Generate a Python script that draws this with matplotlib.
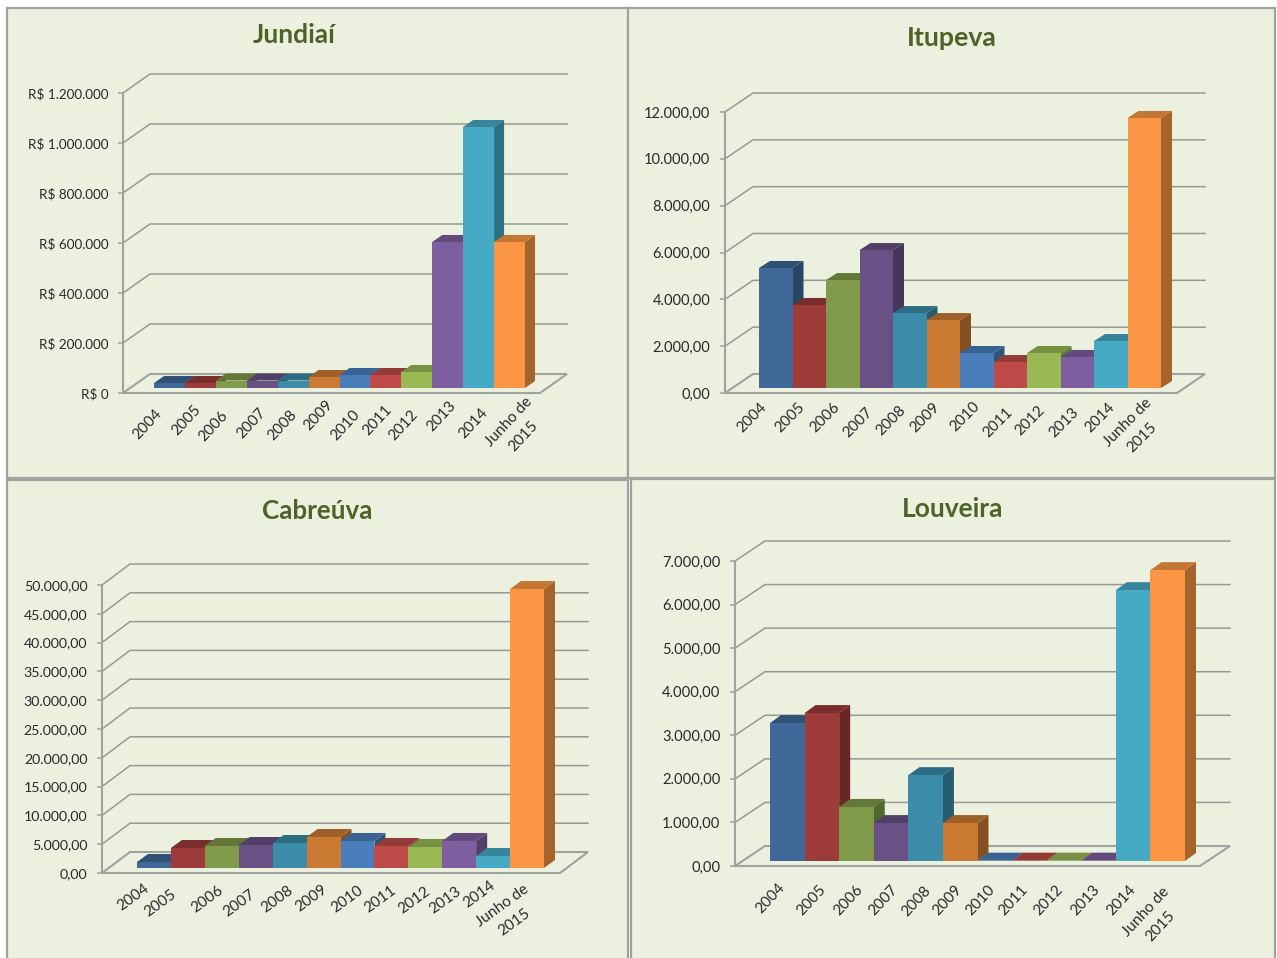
import matplotlib
matplotlib.use("Agg")
import matplotlib.pyplot as plt
from matplotlib.patches import Polygon, Rectangle
from matplotlib.transforms import Affine2D
from matplotlib.colors import to_rgb

W, H = 1277, 958

anos = ["2004", "2005", "2006", "2007", "2008", "2009", "2010", "2011", "2012", "2013", "2014", "Junho de\n2015"]
cores = ["#3F6797", "#9C3B3A", "#7F9A48", "#695185", "#3A8CA8", "#CB7A33",
         "#4A7EBB", "#BE4B48", "#98B954", "#7D5FA0", "#46AAC5", "#FB9744"]

jundiai = [20000, 20000, 30000, 30000, 30000, 44000, 52000, 52000, 64000, 584000, 1044000, 584000]
itupeva = [5125, 3545, 4610, 5890, 3200, 2900, 1495, 1110, 1495, 1325, 2005, 11530]
cabreuva = [1040, 3470, 3820, 3990, 4340, 5380, 4690, 3820, 3650, 4690, 2080, 48440]
louveira = [3165, 3395, 1240, 870, 1970, 870, 8, 8, 8, 8, 6215, 6675]

ticks_jundiai = [0, 200000, 400000, 600000, 800000, 1000000, 1200000]
labels_jundiai = ["R$ 0", "R$ 200.000", "R$ 400.000", "R$ 600.000", "R$ 800.000", "R$ 1.000.000", "R$ 1.200.000"]
ticks_itupeva = [0, 2000, 4000, 6000, 8000, 10000, 12000]
labels_itupeva = ["0,00", "2.000,00", "4.000,00", "6.000,00", "8.000,00", "10.000,00", "12.000,00"]
ticks_cabreuva = [0, 5000, 10000, 15000, 20000, 25000, 30000, 35000, 40000, 45000, 50000]
labels_cabreuva = ["0,00", "5.000,00", "10.000,00", "15.000,00", "20.000,00", "25.000,00",
                   "30.000,00", "35.000,00", "40.000,00", "45.000,00", "50.000,00"]
ticks_louveira = [0, 1000, 2000, 3000, 4000, 5000, 6000, 7000]
labels_louveira = ["0,00", "1.000,00", "2.000,00", "3.000,00", "4.000,00", "5.000,00", "6.000,00", "7.000,00"]

plt.rcParams["font.family"] = ["Lato", "DejaVu Sans"]

FUNDO = "#EBF0DF"
BORDA = "#A0A29E"
GRADE = "#969A92"
TEXTO = "#2A2A2A"

fig = plt.figure(figsize=(W / 100, H / 100), dpi=100, facecolor="white")

# background with the four panels, in pixels
bg = fig.add_axes([0, 0, 1, 1], zorder=0)
bg.set_xlim(0, W)
bg.set_ylim(H, 0)
bg.axis("off")
for x0, y0, x1, y1 in [(7, 8, 628, 478), (628, 8, 1275, 478), (7, 480, 628, 960), (631, 479, 1275, 960)]:
    bg.add_patch(Rectangle((x0, y0), x1 - x0, y1 - y0, facecolor=FUNDO, edgecolor=BORDA, lw=1.6))


def escurece(cor, f):
    r, g, b = to_rgb(cor)
    return (r * f, g * f, b * f)


def painel(titulo, pos_titulo, tam_titulo, valores, ticks, tick_labels, tam_y, front, back_dx, back_dy,
           bar_left, bar_right, bar_base, depth, label_pos, rot):
    left, right, y0, ytop = front
    ax = fig.add_axes([left / W, 1 - y0 / H, (right - left) / W, (y0 - ytop) / H], zorder=1)
    ax.patch.set_alpha(0)
    w = (bar_right - bar_left) / len(valores)
    ax.set_xlim(-0.5 + (left - bar_left) / w, -0.5 + (right - bar_left) / w)
    ax.set_ylim(0, ticks[-1])
    xa, xb = ax.get_xlim()
    ux = (xb - xa) / (right - left)
    uy = ticks[-1] / (y0 - ytop)

    for s in ["top", "right", "bottom"]:
        ax.spines[s].set_visible(False)
    ax.spines["left"].set_color(BORDA)
    ax.spines["left"].set_linewidth(1.5)
    ax.set_xticks([])
    ax.set_yticks(ticks)
    ax.set_yticklabels(tick_labels, fontsize=tam_y, color=TEXTO)
    ax.tick_params(axis="y", length=3.5, width=1.1, color=BORDA, pad=7)

    # floor and back wall lines
    bdx, bdy = back_dx * ux, back_dy * uy
    ax.add_patch(Polygon([(xa, 0), (xb, 0), (xb + bdx, bdy), (xa + bdx, bdy)], closed=True,
                         facecolor=FUNDO, edgecolor=BORDA, lw=1.5, clip_on=False, zorder=1))
    for t in ticks[1:]:
        ax.plot([xa, xa + bdx, xb + bdx], [t, t + bdy, t + bdy], color=GRADE, lw=1.1,
                clip_on=False, zorder=1, solid_joinstyle="miter")

    # bars, front face plus top and side faces
    trans = ax.transData + Affine2D().translate(0, y0 - bar_base)
    ddx, ddy = depth[0] * ux, depth[1] * uy
    for i, v in enumerate(valores):
        z = 2 + i
        c = cores[i]
        a, b = i - 0.5, i + 0.5
        ax.add_patch(Polygon([(b, 0), (b + ddx, ddy), (b + ddx, v + ddy), (b, v)], closed=True,
                             facecolor=escurece(c, 0.66), edgecolor="none",
                             transform=trans, clip_on=False, zorder=z))
        ax.add_patch(Polygon([(a, v), (b, v), (b + ddx, v + ddy), (a + ddx, v + ddy)], closed=True,
                             facecolor=escurece(c, 0.78), edgecolor="none",
                             transform=trans, clip_on=False, zorder=z))
        ax.bar(i, v, width=1, color=c, transform=trans, clip_on=False, zorder=z + 0.5)

    # category labels sit at uneven spots in the original
    for nome, (px, py) in zip(anos, label_pos):
        fig.text(px / W, 1 - py / H, nome, rotation=rot, rotation_mode="anchor", ha="center",
                 va="center", fontsize=11, color=TEXTO, linespacing=1.6, zorder=5)

    fig.text(pos_titulo[0] / W, 1 - pos_titulo[1] / H, titulo, ha="center", va="center",
             fontsize=tam_titulo, fontweight="bold", color="#4F6228", zorder=5)


painel("Jundiaí", (294, 35), 19, jundiai, ticks_jundiai, labels_jundiai, 9.7,
       (123, 540, 393, 93), 27, 19, 154, 525, 388, (10, 7),
       [(147, 424), (186, 420), (213, 426), (251, 423), (282, 425), (318, 415),
        (345, 425), (377, 420), (403, 425), (441, 416), (473, 423), (516, 429)], 47)

painel("Itupeva", (952, 38), 19.2, itupeva, ticks_itupeva, labels_itupeva, 10.5,
       (725, 1177, 393, 112), 28, 19, 759, 1161, 388, (11, 7),
       [(752, 418), (790, 418), (825, 418), (858, 423), (891, 421), (925, 418),
        (965, 417), (998, 423), (1030, 421), (1064, 423), (1100, 418), (1135, 430)], 45)

painel("Cabreúva", (317, 511), 18.7, cabreuva, ticks_cabreuva, labels_cabreuva, 10.2,
       (102, 560, 873, 585), 28, 21, 137, 544, 868, (11, 8),
       [(133, 897), (160, 903), (207, 899), (239, 903), (277, 899), (311, 898),
        (347, 899), (380, 899), (414, 900), (445, 900), (479, 894), (508, 914)], 36)

painel("Louveira", (953, 509), 19, louveira, ticks_louveira, labels_louveira, 10.6,
       (735, 1200, 866, 561), 30, 20, 770, 1185, 861, (11, 8),
       [(770, 898), (811, 900), (848, 900), (883, 900), (916, 901), (947, 900),
        (980, 900), (1013, 900), (1048, 900), (1085, 900), (1121, 900), (1153, 919)], 47)

fig.savefig("out.png", dpi=100, facecolor="white")
